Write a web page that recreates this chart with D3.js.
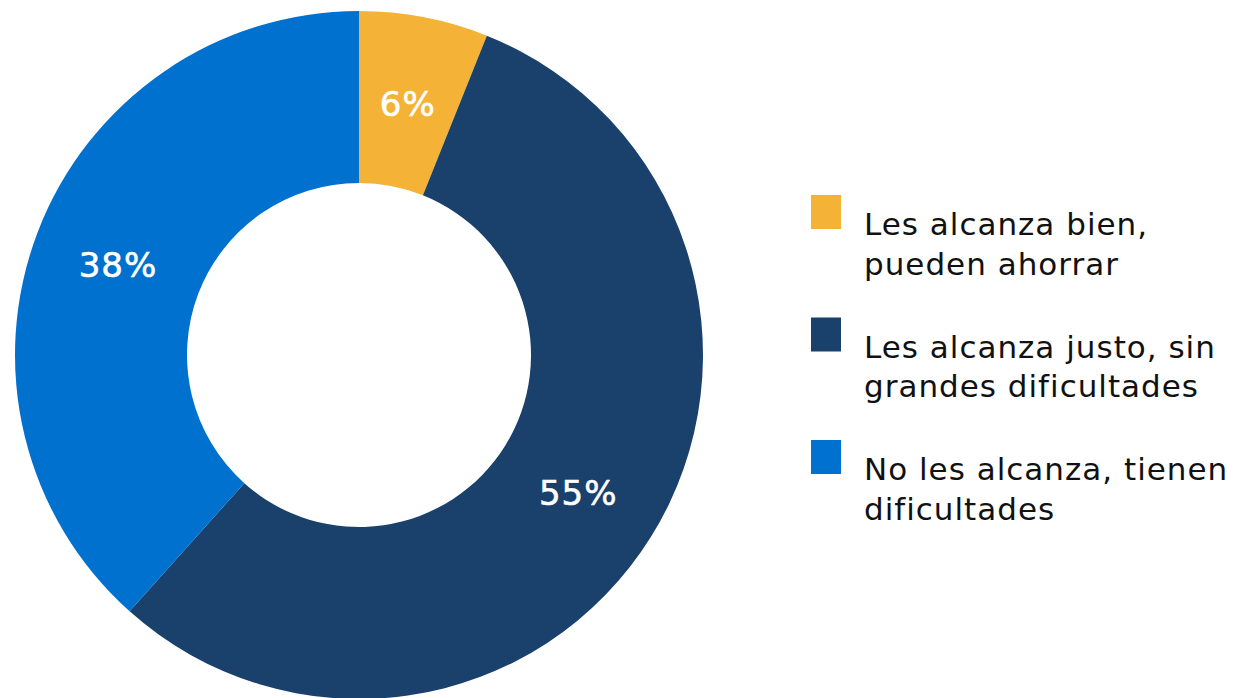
<!DOCTYPE html>
<meta charset="utf-8">
<html>
<head>
<style>
  body { margin: 0; background: #fff; }
  svg { display: block; }
</style>
</head>
<body>
<div id="donut_viz"></div>
<script src="https://d3js.org/d3.v7.min.js"></script>
<script>

// data
var categories = ["Les alcanza bien, pueden ahorrar",
                  "Les alcanza justo, sin grandes dificultades",
                  "No les alcanza, tienen dificultades"];
var legendLines = [["Les alcanza bien,", "pueden ahorrar"],
                   ["Les alcanza justo, sin", "grandes dificultades"],
                   ["No les alcanza, tienen", "dificultades"]];
var values = [6, 55, 38];
var colors = ["#F4B336", "#1A406C", "#0071CE"];

var width = 1235, height = 698;
var cx = 359, cy = 355,
    outerR = 344, innerR = 172;

var svg = d3.select("#donut_viz")
  .append("svg")
    .attr("width", width)
    .attr("height", height);

var pie = d3.pie().sort(null).value(function(d) { return d; });
var arc = d3.arc().innerRadius(innerR).outerRadius(outerR);

var g = svg.append("g")
  .attr("transform", "translate(" + cx + "," + cy + ")");

var slices = g.selectAll("g.slice")
  .data(pie(values))
  .enter().append("g")
    .attr("class", "slice");

slices.append("path")
  .attr("d", arc)
  .attr("fill", function(d, i) { return colors[i]; });

slices.append("text")
  .attr("transform", function(d) { return "translate(" + arc.centroid(d) + ")"; })
  .attr("dy", "0.42em")
  .attr("text-anchor", "middle")
  .attr("fill", "white")
  .attr("font-family", "'DejaVu Sans', sans-serif")
  .attr("font-size", "34px")
  .attr("letter-spacing", "1px")
  .attr("stroke", "white")
  .attr("stroke-width", 0.6)
  .text(function(d) { return d.data + "%"; });

// legend
var legend = svg.append("g")
  .attr("transform", "translate(811,195)");

var item = legend.selectAll("g.item")
  .data(categories)
  .enter().append("g")
    .attr("class", "item")
    .attr("transform", function(d, i) { return "translate(0," + (i * 122.5) + ")"; });

item.append("rect")
  .attr("width", 30)
  .attr("height", 34)
  .attr("fill", function(d, i) { return colors[i]; });

item.append("text")
  .attr("x", 53)
  .attr("y", 40)
  .attr("font-family", "'DejaVu Sans', sans-serif")
  .attr("font-size", "31px")
  .attr("letter-spacing", "1px")
  .attr("fill", "#111")
  .selectAll("tspan")
  .data(function(d, i) { return legendLines[i]; })
  .enter().append("tspan")
    .attr("x", 53)
    .attr("dy", function(d, j) { return j === 0 ? 0 : 39.5; })
    .text(function(d) { return d; });

</script>
</body>
</html>
